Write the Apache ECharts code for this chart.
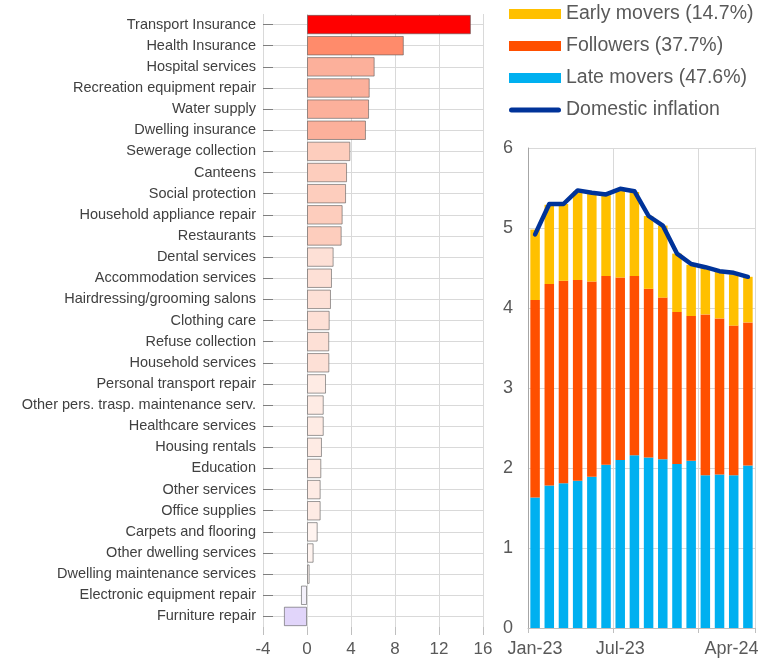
<!DOCTYPE html>
<html>
<head>
<meta charset="utf-8">
<script src="https://cdn.jsdelivr.net/npm/echarts@6/dist/echarts.min.js"></script>
<style>
html,body{margin:0;padding:0;background:#fff;}
#chart{width:769px;height:659px;}
</style>
</head>
<body>
<div id="chart"></div>
<script>
// ---------- DATA ----------
const categories = [
  'Transport Insurance','Health Insurance','Hospital services','Recreation equipment repair',
  'Water supply','Dwelling insurance','Sewerage collection','Canteens','Social protection',
  'Household appliance repair','Restaurants','Dental services','Accommodation services',
  'Hairdressing/grooming salons','Clothing care','Refuse collection','Household services',
  'Personal transport repair','Other pers. trasp. maintenance serv.','Healthcare services',
  'Housing rentals','Education','Other services','Office supplies','Carpets and flooring',
  'Other dwelling services','Dwelling maintenance services','Electronic equipment repair','Furniture repair'
];
const categoryValues = [
  14.9, 8.8, 6.15, 5.7, 5.64, 5.36, 3.94, 3.64, 3.55, 3.24, 3.15, 2.42, 2.27,
  2.18, 2.06, 2.02, 2.03, 1.73, 1.52, 1.52, 1.36, 1.3, 1.24, 1.24, 0.97,
  0.6, 0.24, -0.55, -2.1
];
const months = ['Jan-23','Feb-23','Mar-23','Apr-23','May-23','Jun-23','Jul-23','Aug-23',
  'Sep-23','Oct-23','Nov-23','Dec-23','Jan-24','Feb-24','Mar-24','Apr-24'];
const lateMovers = [1.63,1.78,1.81,1.84,1.89,2.04,2.10,2.16,2.13,2.11,2.05,2.09,1.91,1.92,1.91,2.03];
const followers  = [2.47,2.52,2.53,2.51,2.44,2.36,2.28,2.24,2.11,2.02,1.90,1.81,2.01,1.95,1.87,1.79];
const earlyMovers= [0.88,0.99,0.96,1.11,1.10,1.01,1.09,1.05,0.91,0.90,0.73,0.64,0.58,0.58,0.64,0.57];
const domesticInflation = [4.92,5.30,5.30,5.47,5.44,5.42,5.49,5.46,5.15,5.03,4.68,4.55,4.51,4.46,4.44,4.39];
const shownMonthLabels = ['Jan-23','Jul-23','Apr-24'];
const markedMonths = ['Jan-23','Jul-23','Jan-24'];
const leftTicks = {min:-4, max:16, interval:4};
const rightTicks = {min:0, max:6, interval:1};
const legendNames = ['Early movers (14.7%)','Followers (37.7%)','Late movers (47.6%)','Domestic inflation'];

// ---------- STYLE ----------
const colorSteps = [
  [12, '#ff0000'], [7, '#ff8b6b'], [5, '#fcb09b'], [3, '#fdcdbd'],
  [1.9, '#fde0d6'], [1, '#feebe4'], [0, '#fff4f0'], [-1, '#f4f1fb'], [-Infinity, '#e1d5fa']
];
function barColor(v){ for (const [t,c] of colorSteps) if (v >= t) return c; return '#ffffff'; }
const FONT = '"Liberation Sans", Arial, sans-serif';
const gridColor = '#d9d9d9';
const labelColor = '#595959';
const lineIcon = 'path://M2.5,0 L49.5,0 A2.5,2.5 0 0 1 49.5,5 L2.5,5 A2.5,2.5 0 0 1 2.5,0 Z';

const chart = echarts.init(document.getElementById('chart'), null, {renderer:'canvas'});
chart.setOption({
  backgroundColor:'#ffffff',
  textStyle:{fontFamily:FONT},
  animation:false,
  grid:[
    {left:263, right:286, top:14, bottom:32, containLabel:false},
    {left:528, right:14, top:148, bottom:31, containLabel:false}
  ],
  legend:{
    orient:'vertical', left:509, top:3, padding:0, itemWidth:52, itemHeight:10, itemGap:10,
    textStyle:{fontSize:19.5, color:labelColor, fontFamily:FONT, lineHeight:22},
    data:[
      {name:legendNames[0], icon:'rect'},
      {name:legendNames[1], icon:'rect'},
      {name:legendNames[2], icon:'rect'},
      {name:legendNames[3], icon:lineIcon}
    ]
  },
  xAxis:[
    {type:'value', gridIndex:0, min:leftTicks.min, max:leftTicks.max, interval:leftTicks.interval,
     axisLine:{show:false, onZero:false},
     axisTick:{show:true, length:8, lineStyle:{color:'#bfbfbf'}},
     axisLabel:{fontSize:17, color:labelColor, margin:14, fontFamily:FONT},
     splitLine:{show:true, lineStyle:{color:gridColor, width:1}}
    },
    {type:'category', gridIndex:1, data:months, boundaryGap:true,
     axisLine:{show:true, lineStyle:{color:'#bfbfbf'}},
     axisTick:{show:true, length:5, interval:(i,v)=>markedMonths.includes(v), lineStyle:{color:'#bfbfbf'}},
     axisLabel:{fontSize:18, color:labelColor, margin:12, fontFamily:FONT,
       interval:(i,v)=>shownMonthLabels.includes(v),
       formatter:(v,i)=> i===months.length-1 ? '{r|'+v+'}' : v,
       rich:{r:{fontSize:18, color:labelColor, fontFamily:FONT, width:87, align:'left'}}
     },
     splitLine:{show:true, interval:(i,v)=>markedMonths.includes(v) && i>0, lineStyle:{color:gridColor}}
    }
  ],
  yAxis:[
    {type:'category', gridIndex:0, data:categories, inverse:true,
     axisLine:{show:false, onZero:false},
     axisTick:{show:true, inside:true, length:10, alignWithLabel:true, lineStyle:{color:'#7f7f7f'}},
     axisLabel:{fontSize:14.5, color:'#404040', margin:7, fontFamily:FONT},
     splitLine:{show:true, alignWithLabel:true, lineStyle:{color:gridColor}}
    },
    {type:'value', gridIndex:1, min:rightTicks.min, max:rightTicks.max, interval:rightTicks.interval,
     axisLine:{show:true, lineStyle:{color:'#a6a6a6'}},
     axisTick:{show:false},
     axisLabel:{fontSize:18, color:labelColor, margin:15, fontFamily:FONT},
     splitLine:{show:true, lineStyle:{color:gridColor}}
    },
    {type:'value', gridIndex:1, position:'right', min:rightTicks.min, max:rightTicks.max, interval:rightTicks.interval,
     axisLine:{show:true, lineStyle:{color:gridColor}}, axisTick:{show:false}, axisLabel:{show:false}, splitLine:{show:false}
    }
  ],
  series:[
    {type:'bar', xAxisIndex:0, yAxisIndex:0, data:categoryValues, barCategoryGap:'8%',
     itemStyle:{color:(p)=>barColor(p.value), borderColor:'rgba(90,90,90,0.6)', borderWidth:1},
     emphasis:{disabled:true}
    },
    {name:legendNames[2], type:'bar', xAxisIndex:1, yAxisIndex:1, stack:'s', data:lateMovers,
     barCategoryGap:'33%', itemStyle:{color:'#00b0f0'}},
    {name:legendNames[1], type:'bar', xAxisIndex:1, yAxisIndex:1, stack:'s', data:followers,
     barCategoryGap:'33%', itemStyle:{color:'#ff4f00'}},
    {name:legendNames[0], type:'bar', xAxisIndex:1, yAxisIndex:1, stack:'s', data:earlyMovers,
     barCategoryGap:'33%', itemStyle:{color:'#ffc000'}},
    {name:legendNames[3], type:'line', xAxisIndex:1, yAxisIndex:1, data:domesticInflation,
     symbol:'none', smooth:false, itemStyle:{color:'#003399'},
     lineStyle:{color:'#003399', width:4.5, cap:'round', join:'round'}, z:5}
  ]
});
</script>
</body>
</html>
